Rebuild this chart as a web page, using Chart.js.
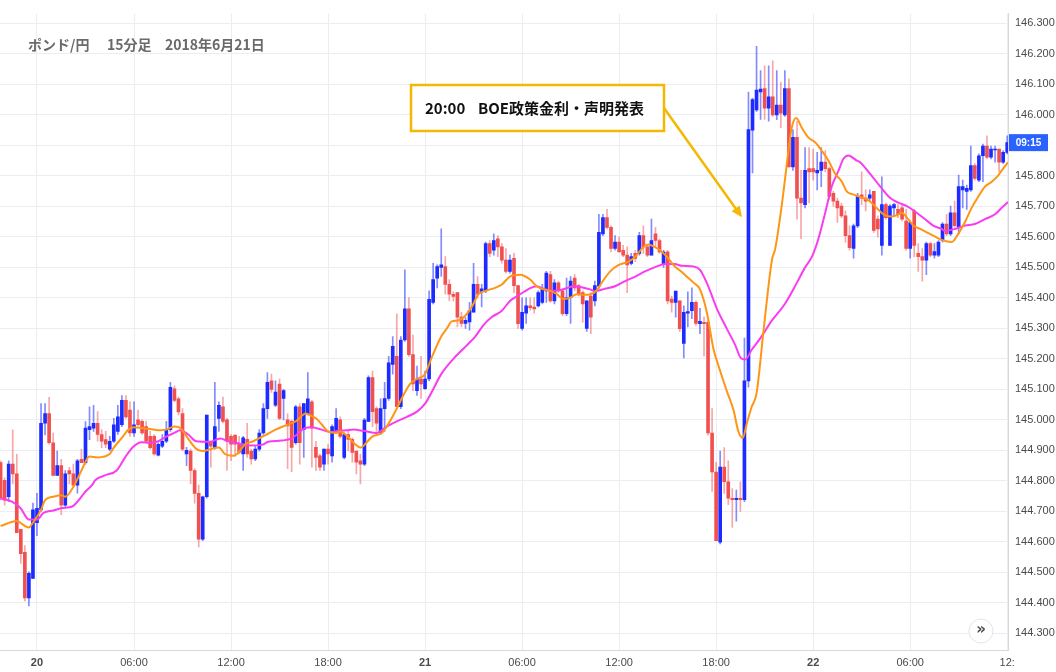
<!DOCTYPE html>
<html>
<head>
<meta charset="utf-8">
<script src="https://cdn.jsdelivr.net/npm/chart.js@4.4.1/dist/chart.umd.min.js"></script>
<style>
  html, body { margin: 0; padding: 0; background: #fff; }
  canvas { display: block; }
</style>
</head>
<body>
<canvas id="chart" width="1056" height="672"></canvas>
<script>
// 15-minute GBP/JPY bars, bar index 0 = 20th 00:00
const firstBar = -9;

const opens = [
  144.860,144.802,144.748,144.855,144.823,144.641,144.566,144.416,144.480,144.663,
  144.705,144.989,145.021,144.925,144.818,144.850,144.720,144.834,144.823,144.786,
  144.871,144.860,144.968,144.973,144.989,144.952,144.935,144.904,144.930,144.962,
  144.984,145.064,145.032,144.957,145.000,144.995,144.978,144.946,144.946,144.884,
  144.914,144.930,144.968,145.102,145.069,145.021,144.888,144.898,144.834,144.759,
  144.609,144.748,144.930,144.909,145.005,145.043,145.000,144.946,144.950,144.920,
  144.888,144.936,144.898,144.872,144.904,144.957,145.037,145.128,145.048,145.117,
  145.070,145.000,144.995,144.925,145.043,144.968,145.020,145.059,144.910,144.882,
  144.855,144.904,144.882,144.962,145.000,144.877,144.952,144.936,144.898,144.866,
  144.855,144.995,145.139,145.037,144.957,145.037,145.070,145.182,145.208,145.043,
  145.262,145.364,145.214,145.096,145.134,145.102,145.134,145.385,145.465,145.500,
  145.503,145.444,145.412,145.417,145.337,145.316,145.321,145.353,145.444,145.420,
  145.423,145.578,145.556,145.594,145.567,145.524,145.487,145.530,145.440,145.300,
  145.350,145.374,145.370,145.374,145.385,145.423,145.476,145.390,145.449,145.423,
  145.348,145.401,145.465,145.440,145.417,145.300,145.406,145.390,145.438,145.610,
  145.663,145.631,145.562,145.583,145.556,145.540,145.513,145.546,145.546,145.604,
  145.567,145.540,145.610,145.588,145.510,145.551,145.396,145.385,145.390,145.251,
  145.350,145.358,145.385,145.315,145.320,145.320,144.957,144.829,144.599,144.845,
  144.797,144.743,144.738,144.743,144.738,145.128,145.950,146.016,146.075,146.086,
  146.022,146.059,146.000,146.032,146.000,146.086,145.829,145.926,145.727,145.706,
  145.824,145.824,145.810,145.818,145.845,145.824,145.743,145.717,145.701,145.669,
  145.604,145.562,145.636,145.738,145.727,145.727,145.749,145.658,145.572,145.706,
  145.572,145.695,145.690,145.695,145.652,145.562,145.685,145.546,145.535,145.524,
  145.578,145.540,145.540,145.588,145.642,145.610,145.679,145.631,145.754,145.749,
  145.754,145.834,145.786,145.866,145.898,145.861,145.885,145.888,145.845,145.877
];
const highs = [
  144.866,144.810,144.866,144.967,144.887,144.641,144.588,144.502,144.727,144.759,
  145.053,145.053,145.074,144.957,144.898,144.871,144.834,144.844,144.855,144.871,
  144.903,144.994,145.043,145.048,145.027,144.968,144.962,144.946,145.005,145.048,
  145.080,145.080,145.059,145.059,145.032,145.000,144.995,144.962,144.952,144.925,
  144.952,144.995,145.123,145.112,145.075,145.037,144.910,144.904,144.840,144.786,
  144.750,145.016,144.930,145.123,145.059,145.075,145.005,144.952,144.950,144.946,
  144.946,144.989,144.904,144.914,144.968,145.053,145.155,145.150,145.128,145.134,
  145.100,145.020,145.000,145.048,145.053,145.053,145.155,145.064,144.930,144.888,
  144.904,144.920,144.984,145.037,145.010,144.957,144.962,144.941,144.898,144.888,
  145.005,145.144,145.160,145.043,145.069,145.123,145.208,145.273,145.348,145.273,
  145.492,145.401,145.278,145.176,145.208,145.160,145.423,145.513,145.508,145.626,
  145.535,145.460,145.420,145.417,145.353,145.335,145.385,145.513,145.470,145.444,
  145.583,145.588,145.610,145.604,145.578,145.562,145.540,145.546,145.440,145.400,
  145.400,145.400,145.400,145.423,145.444,145.487,145.487,145.460,145.455,145.428,
  145.465,145.470,145.476,145.444,145.423,145.390,145.417,145.455,145.674,145.674,
  145.690,145.636,145.604,145.599,145.572,145.567,145.546,145.556,145.615,145.636,
  145.572,145.658,145.631,145.594,145.556,145.556,145.406,145.422,145.390,145.374,
  145.420,145.433,145.390,145.366,145.337,145.326,145.037,144.861,144.898,144.909,
  144.866,144.775,144.770,144.797,145.268,146.075,146.055,146.225,146.145,146.161,
  146.161,146.177,146.145,146.107,146.145,146.118,145.952,145.979,145.818,145.893,
  145.893,145.888,145.877,145.893,145.883,145.829,145.749,145.727,145.711,145.685,
  145.636,145.642,145.743,145.813,145.754,145.754,145.749,145.669,145.797,145.711,
  145.706,145.710,145.706,145.706,145.690,145.652,145.690,145.578,145.562,145.583,
  145.583,145.578,145.588,145.647,145.674,145.701,145.717,145.803,145.786,145.770,
  145.898,145.840,145.872,145.904,145.931,145.898,145.898,145.888,145.883,145.931
];
const lows = [
  144.737,144.720,144.732,144.790,144.630,144.529,144.406,144.390,144.480,144.620,
  144.700,144.951,144.920,144.818,144.818,144.689,144.716,144.790,144.780,144.760,
  144.860,144.855,144.935,144.962,144.930,144.909,144.909,144.898,144.925,144.952,
  144.978,145.005,144.946,144.946,144.980,144.952,144.925,144.904,144.884,144.882,
  144.909,144.925,144.962,145.059,145.016,144.898,144.850,144.791,144.727,144.583,
  144.604,144.743,144.845,144.904,144.962,144.990,144.834,144.866,144.880,144.888,
  144.834,144.877,144.855,144.866,144.898,144.952,145.005,145.090,145.043,145.000,
  145.000,144.840,144.830,144.920,144.855,144.877,145.016,144.845,144.834,144.834,
  144.834,144.855,144.861,144.957,144.940,144.872,144.898,144.861,144.823,144.790,
  144.850,144.995,144.978,144.962,144.952,144.962,145.064,145.150,145.043,145.037,
  145.257,145.208,145.096,145.080,145.070,145.100,145.128,145.380,145.433,145.470,
  145.412,145.390,145.390,145.305,145.305,145.300,145.294,145.353,145.400,145.370,
  145.417,145.535,145.540,145.535,145.514,145.481,145.481,145.417,145.300,145.294,
  145.316,145.360,145.350,145.370,145.380,145.385,145.385,145.380,145.417,145.342,
  145.342,145.316,145.423,145.406,145.320,145.290,145.283,145.374,145.432,145.604,
  145.626,145.551,145.556,145.551,145.535,145.417,145.508,145.519,145.540,145.546,
  145.535,145.540,145.567,145.546,145.500,145.380,145.353,145.337,145.290,145.203,
  145.305,145.332,145.310,145.283,145.209,144.950,144.765,144.604,144.593,144.759,
  144.722,144.647,144.668,144.700,144.732,145.107,145.810,146.011,145.985,145.985,
  145.979,145.995,145.984,145.958,145.995,145.829,145.818,145.658,145.594,145.695,
  145.711,145.786,145.754,145.765,145.813,145.722,145.701,145.647,145.663,145.583,
  145.556,145.530,145.630,145.706,145.685,145.717,145.615,145.599,145.540,145.658,
  145.572,145.668,145.663,145.652,145.556,145.530,145.535,145.487,145.455,145.476,
  145.535,145.530,145.535,145.583,145.604,145.604,145.631,145.610,145.695,145.690,
  145.749,145.786,145.781,145.781,145.856,145.856,145.845,145.813,145.840,145.872
];
const closes = [
  144.743,144.737,144.855,144.823,144.630,144.561,144.416,144.497,144.705,144.710,
  144.989,145.021,144.925,144.818,144.850,144.720,144.823,144.823,144.786,144.866,
  144.860,144.973,144.978,144.989,144.952,144.930,144.920,144.930,144.984,145.010,
  145.064,145.010,144.957,144.984,144.984,144.957,144.930,144.909,144.888,144.920,
  144.930,144.968,145.107,145.064,145.026,144.904,144.900,144.834,144.759,144.609,
  144.748,145.016,144.914,144.978,145.048,144.995,144.930,144.920,144.920,144.893,
  144.941,144.888,144.872,144.904,144.957,145.037,145.123,145.100,145.091,145.005,
  145.096,144.980,144.910,145.043,144.925,145.053,145.069,144.973,144.877,144.845,
  144.904,144.888,144.978,145.005,144.946,144.952,144.936,144.893,144.861,144.855,
  144.999,145.139,145.027,144.989,145.037,145.070,145.187,145.241,145.043,145.262,
  145.364,145.214,145.118,145.134,145.118,145.134,145.395,145.460,145.503,145.508,
  145.444,145.412,145.405,145.337,145.316,145.326,145.358,145.444,145.412,145.430,
  145.578,145.546,145.588,145.567,145.524,145.487,145.524,145.440,145.315,145.353,
  145.374,145.368,145.364,145.417,145.428,145.481,145.390,145.449,145.423,145.348,
  145.401,145.455,145.433,145.412,145.380,145.390,145.337,145.440,145.615,145.663,
  145.631,145.562,145.583,145.551,145.540,145.508,145.535,145.529,145.604,145.567,
  145.540,145.588,145.588,145.551,145.550,145.390,145.385,145.422,145.299,145.353,
  145.355,145.385,145.316,145.323,145.315,144.957,144.829,144.604,144.845,144.797,
  144.743,144.738,144.743,144.738,145.128,145.952,146.050,146.081,146.085,146.022,
  146.059,146.000,146.032,146.006,146.086,145.829,145.926,145.727,145.711,145.818,
  145.813,145.813,145.818,145.845,145.824,145.733,145.717,145.695,145.669,145.604,
  145.565,145.636,145.733,145.727,145.717,145.738,145.621,145.626,145.706,145.663,
  145.701,145.706,145.674,145.658,145.562,145.647,145.572,145.535,145.524,145.578,
  145.540,145.552,145.583,145.642,145.610,145.679,145.637,145.765,145.765,145.759,
  145.834,145.792,145.866,145.898,145.861,145.888,145.888,145.845,145.877,145.909
];

// moving averages (bar index, price)
const fastMaX = [
  -9,-5,-3,-2,-1,1,2,4,6,7,
  9,11,13,15,18,19,21,22.6,24,26,
  28,30,32,34,35.5,37.5,39.5,41,43,45,
  46.5,48.5,49.5,51.5,53.5,56.5,59,61.5,64,66.5,
  68,69,70.5,72,74,75,76.5,78.3,80.2,81,
  83,85.3,87.3,89,90.6,92.3,94,96,97.6,100,
  101.4,102.6,104.2,106,107.5,109.2,111,113.3,115,117,
  119.5,122,123.6,125.3,127,128.6,130.2,131.9,133.5,135.2,
  137,138.5,139.7,141.8,143.9,146.3,148,150,151.2,152.5,
  154.1,155.8,157.8,159.5,160.7,162.4,164,165.7,167.3,169,
  170.6,172.3,173.5,174.6,175.6,176.8,178,179.7,181.8,182.6,
  184.2,185.9,186.7,187.8,189.2,190.8,192.5,194.1,195.8,197.4,
  199.1,200.3,201.7,202.8,204.4,206,207.7,209.4,211,212.7,
  213.9,215.2,216.8,218.5,220.1,221.7,223.8,226.3,227.9,229.5,
  231.2,232.9,234.5,236.2,237.8,239,240.2
];
const fastMaY = [
  144.652,144.668,144.652,144.647,144.663,144.705,144.737,144.748,144.753,144.748,
  144.780,144.834,144.880,144.877,144.888,144.909,144.941,144.968,144.976,144.973,
  144.970,144.966,144.968,144.978,144.973,144.936,144.904,144.898,144.904,144.909,
  144.888,144.882,144.888,144.920,144.930,144.950,144.968,144.982,144.995,145.021,
  145.012,145.005,144.984,144.962,144.957,144.962,144.950,144.925,144.909,144.918,
  144.946,144.957,144.995,145.037,145.080,145.118,145.134,145.150,145.203,145.273,
  145.300,145.323,145.326,145.342,145.369,145.412,145.423,145.433,145.444,145.470,
  145.476,145.460,145.438,145.428,145.423,145.412,145.396,145.401,145.412,145.410,
  145.412,145.425,145.450,145.487,145.508,145.519,145.535,145.567,145.575,145.569,
  145.556,145.535,145.503,145.485,145.470,145.450,145.428,145.353,145.235,145.160,
  145.096,145.032,144.962,144.941,144.989,145.043,145.087,145.289,145.524,145.560,
  145.700,145.883,145.958,145.990,145.958,145.926,145.910,145.883,145.850,145.808,
  145.781,145.749,145.740,145.735,145.727,145.717,145.695,145.674,145.667,145.671,
  145.679,145.663,145.637,145.626,145.615,145.604,145.590,145.583,145.610,145.647,
  145.695,145.733,145.765,145.781,145.802,145.824,145.845
];
const slowMaX = [
  -9,-6.2,-4.1,-2,0,1.6,4.1,6.2,8.7,10.7,
  12,13.6,14.4,16.8,19.7,21.8,23.8,25.9,27.9,30,
  32.1,34.1,35.4,37.4,39.4,42.8,45.3,47.3,50.2,52.7,
  55.6,57.2,60.5,63,66.3,67.9,70.4,72.5,74.6,76.6,
  78.3,80.7,84,86.5,89,91.5,94,96,97.6,100,
  103,106,108.4,110.4,112.5,115,117,118.7,120.5,122,
  123.6,125.7,127.7,130.2,132.7,134.7,136.8,138,140.5,143,
  145.5,148,150.4,152.9,155.4,157.8,159.5,162.4,164,165.7,
  168.2,170.6,172.7,174.1,175.2,176.8,178.9,180.5,181.8,185,
  188,190,191.7,193.3,195,196.6,198.3,199.5,200.7,202.8,
  203.6,206,208.6,211,213.1,215.2,217.6,219.7,221.7,223.8,
  224.5,227.1,229.6,232,234.5,237,238.6,240.2
];
const slowMaY = [
  144.743,144.732,144.711,144.673,144.673,144.695,144.703,144.711,144.716,144.743,
  144.765,144.786,144.802,144.818,144.834,144.877,144.912,144.927,144.925,144.930,
  144.946,144.958,144.966,144.952,144.930,144.928,144.939,144.930,144.922,144.916,
  144.918,144.928,144.932,144.939,144.973,144.976,144.968,144.960,144.964,144.966,
  144.968,144.964,144.957,144.978,144.995,145.010,145.027,145.053,145.090,145.150,
  145.200,145.240,145.273,145.310,145.337,145.358,145.390,145.405,145.420,145.432,
  145.438,145.428,145.423,145.428,145.438,145.435,145.428,145.422,145.430,145.438,
  145.455,145.470,145.487,145.501,145.511,145.511,145.505,145.503,145.492,145.449,
  145.364,145.300,145.246,145.203,145.198,145.230,145.267,145.300,145.326,145.380,
  145.450,145.500,145.535,145.594,145.680,145.765,145.818,145.856,145.867,145.850,
  145.845,145.808,145.765,145.728,145.712,145.701,145.679,145.658,145.637,145.626,
  145.620,145.626,145.637,145.642,145.658,145.674,145.695,145.714
];

const priceTicks = [
  144.3,144.4,144.5,144.6,144.7,144.8,144.9,145.0,145.1,145.2,145.3,
  145.4,145.5,145.6,145.7,145.8,145.9,146.0,146.1,146.2,146.3
];
const timeTicks = [0, 24, 48, 72, 96, 120, 144, 168, 192, 216, 240];
const timeLabels = ['20', '06:00', '12:00', '18:00', '21', '06:00', '12:00', '18:00', '22', '06:00', '12:'];
const dayLabels = ['20', '21', '22'];

const upColor = '#1c2bff';
const upWick = 'rgba(28,43,255,0.55)';
const downColor = '#f0504f';
const downWick = 'rgba(240,80,79,0.5)';

const wickData = [];
const bodyData = [];
const wickColors = [];
const bodyColors = [];
for (let i = 0; i < opens.length; i++) {
  const x = firstBar + i;
  const up = closes[i] >= opens[i];
  wickData.push({ x: x, y: [lows[i], highs[i]] });
  bodyData.push({ x: x, y: [opens[i], closes[i]] });
  wickColors.push(up ? upWick : downWick);
  bodyColors.push(up ? upColor : downColor);
}

const overlay = {
  id: 'overlay',
  afterDraw(chart) {
    const ctx = chart.ctx;
    const xs = chart.scales.x;
    const ys = chart.scales.y;
    const right = chart.chartArea.right;
    ctx.save();

    // title
    ctx.fillStyle = '#6a6a6a';
    ctx.font = 'bold 14px "Noto Sans CJK JP"';
    ctx.textBaseline = 'alphabetic';
    ctx.textAlign = 'left';
    ctx.fillText('ポンド/円', 28, 50);
    ctx.fillText('15分足', 107, 50);
    ctx.fillText('2018年6月21日', 165, 50);

    // callout box
    ctx.fillStyle = '#ffffff';
    ctx.fillRect(411, 85, 253, 46);
    ctx.strokeStyle = '#f5b800';
    ctx.lineWidth = 2.5;
    ctx.strokeRect(411, 85, 253, 46);
    ctx.fillStyle = '#111';
    ctx.font = 'bold 15px "Noto Sans CJK JP"';
    ctx.fillText('20:00', 425, 114);
    ctx.fillText('BOE政策金利・声明発表', 478, 114);

    // arrow to the announcement bar
    const tx = xs.getPixelForValue(174.4);
    const ty = ys.getPixelForValue(145.664);
    const sx = 664, sy = 108;
    const ang = Math.atan2(ty - sy, tx - sx);
    ctx.strokeStyle = '#f5b800';
    ctx.lineWidth = 2.5;
    ctx.beginPath();
    ctx.moveTo(sx, sy);
    ctx.lineTo(tx - 6 * Math.cos(ang), ty - 6 * Math.sin(ang));
    ctx.stroke();
    ctx.fillStyle = '#f5b800';
    ctx.beginPath();
    ctx.moveTo(tx, ty);
    ctx.lineTo(tx - 11 * Math.cos(ang) + 5 * Math.sin(ang), ty - 11 * Math.sin(ang) - 5 * Math.cos(ang));
    ctx.lineTo(tx - 11 * Math.cos(ang) - 5 * Math.sin(ang), ty - 11 * Math.sin(ang) + 5 * Math.cos(ang));
    ctx.closePath();
    ctx.fill();

    // last price tag on the right axis (covers the tick label under it)
    const py = ys.getPixelForValue(closes[closes.length - 1]);
    ctx.fillStyle = '#ffffff';
    ctx.fillRect(right + 1, py - 9, chart.width - right, 18);
    ctx.fillStyle = '#2962ff';
    ctx.fillRect(right + 1, py - 8.5, 39, 17);
    ctx.fillStyle = '#fff';
    ctx.font = 'bold 10px "Liberation Sans"';
    ctx.textAlign = 'center';
    ctx.textBaseline = 'middle';
    ctx.fillText('09:15', right + 20.5, py + 0.5);

    // scroll button
    ctx.beginPath();
    ctx.arc(981, 631, 12, 0, Math.PI * 2);
    ctx.fillStyle = '#fff';
    ctx.fill();
    ctx.strokeStyle = '#e1e4ea';
    ctx.lineWidth = 1;
    ctx.stroke();
    ctx.fillStyle = '#4a4a4a';
    ctx.font = 'bold 15px "DejaVu Sans"';
    ctx.fillText('»', 981, 630);

    ctx.restore();
  }
};

new Chart(document.getElementById('chart'), {
  type: 'bar',
  data: {
    datasets: [
      {
        type: 'line', label: 'fast', order: 0,
        data: fastMaX.map((x, i) => ({ x: x, y: fastMaY[i] })),
        borderColor: '#ff9514', borderWidth: 2, pointRadius: 0,
        cubicInterpolationMode: 'monotone'
      },
      {
        type: 'line', label: 'slow', order: 0,
        data: slowMaX.map((x, i) => ({ x: x, y: slowMaY[i] })),
        borderColor: '#fa3cf0', borderWidth: 2, pointRadius: 0,
        cubicInterpolationMode: 'monotone'
      },
      {
        label: 'body', order: 1, data: bodyData, grouped: false,
        barThickness: 3, minBarLength: 1, borderWidth: 0,
        backgroundColor: bodyColors
      },
      {
        label: 'wick', order: 2, data: wickData, grouped: false,
        barThickness: 1, borderWidth: 0,
        backgroundColor: wickColors
      }
    ]
  },
  options: {
    responsive: false,
    animation: false,
    devicePixelRatio: 1,
    layout: { padding: 0 },
    plugins: {
      legend: { display: false },
      tooltip: { enabled: false }
    },
    scales: {
      x: {
        type: 'linear',
        position: 'bottom',
        offset: false,
        min: -9.15,
        max: 240.2,
        afterBuildTicks: (axis) => { axis.ticks = timeTicks.map(v => ({ value: v })); },
        afterFit: (axis) => { axis.height = 22; },
        grid: { color: '#eaeef3', offset: false, drawTicks: false },
        border: { color: '#d5d9df' },
        ticks: {
          autoSkip: false,
          maxRotation: 0,
          padding: 6,
          color: '#4a4a4a',
          font: (c) => ({
            family: '"Liberation Sans"',
            size: 11,
            weight: c.tick && dayLabels.includes(timeLabels[timeTicks.indexOf(c.tick.value)]) ? 'bold' : 'normal'
          }),
          callback: (v) => timeLabels[timeTicks.indexOf(v)]
        }
      },
      y: {
        type: 'linear',
        position: 'right',
        beginAtZero: false,
        min: 144.2454,
        max: 146.3321,
        afterBuildTicks: (axis) => { axis.ticks = priceTicks.map(v => ({ value: v })); },
        afterFit: (axis) => { axis.width = 48; },
        grid: { color: '#eaeef3', drawTicks: false },
        border: { color: '#d5d9df' },
        ticks: {
          padding: 7,
          color: '#4a4a4a',
          font: { family: '"Liberation Sans"', size: 11 },
          callback: (v) => v.toFixed(3)
        }
      }
    }
  },
  plugins: [overlay]
});
</script>
</body>
</html>
